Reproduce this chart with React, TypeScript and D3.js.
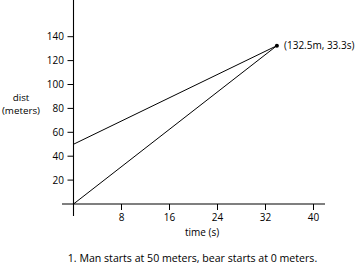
import React from "react";
import * as d3 from "d3";

const xTicks = [8, 16, 24, 32, 40];
const yTicks = [20, 40, 60, 80, 100, 120, 140];
const manLine = [
  { t: 0, d: 50 },
  { t: 33.9, d: 132.5 },
];
const bearLine = [
  { t: 0, d: 0 },
  { t: 33.9, d: 132.5 },
];
const meetPoint = { t: 33.9, d: 132.5, label: "(132.5m, 33.3s)" };
const yLabel = ["dist", "(meters)"];
const xLabel = "time (s)";
const caption = "1. Man starts at 50 meters,  bear starts at 0 meters.";

const W = 359;
const H = 267;
const font = "'Open Sans', 'Noto Sans', sans-serif";

export default function App() {
  const x = d3.scaleLinear().domain([0, 40]).range([73.5, 313.5]);
  const y = d3.scaleLinear().domain([0, 140]).range([204, 36.7]);
  const line = d3
    .line<{ t: number; d: number }>()
    .x((p) => x(p.t))
    .y((p) => y(p.d));

  return (
    <svg
      width={W}
      height={H}
      style={{ position: "fixed", left: 0, top: 0, background: "#fff" }}
      fontFamily={font}
    >
      <rect width={W} height={H} fill="#fff" />
      {/* axes */}
      <line x1={x(0)} x2={x(0)} y1={0} y2={216} stroke="#000" strokeWidth={1.1} />
      <line x1={62} x2={325} y1={y(0)} y2={y(0)} stroke="#000" strokeWidth={1.1} />
      {yTicks.map((v) => (
        <g key={v}>
          <line x1={x(0) - 6} x2={x(0)} y1={y(v)} y2={y(v)} stroke="#000" strokeWidth={1} />
          <text x={64} y={y(v) + 3.6} fontSize={10} textAnchor="end" fill="#000">
            {v}
          </text>
        </g>
      ))}
      {xTicks.map((v) => (
        <g key={v}>
          <line x1={x(v)} x2={x(v)} y1={y(0)} y2={y(0) + 6} stroke="#000" strokeWidth={1} />
          <text x={x(v)} y={221} fontSize={10} textAnchor="middle" fill="#000">
            {v}
          </text>
        </g>
      ))}
      <text x={21} y={100.5} fontSize={9.8} textAnchor="middle" fill="#000">
        {yLabel[0]}
      </text>
      <text x={21} y={114} fontSize={9.8} textAnchor="middle" fill="#000">
        {yLabel[1]}
      </text>
      <text x={202} y={236} fontSize={10} textAnchor="middle" fill="#000">
        {xLabel}
      </text>
      <text x={192.5} y={262} fontSize={10.6} textAnchor="middle" fill="#000">
        {caption}
      </text>
      {/* lines */}
      <path d={line(manLine) || ""} fill="none" stroke="#000" strokeWidth={1} />
      <path d={line(bearLine) || ""} fill="none" stroke="#000" strokeWidth={1} />
      <circle cx={x(meetPoint.t)} cy={y(meetPoint.d)} r={2} fill="#000" />
      <text x={284} y={y(meetPoint.d) + 3.6} fontSize={10} fill="#000">
        {meetPoint.label}
      </text>
    </svg>
  );
}
